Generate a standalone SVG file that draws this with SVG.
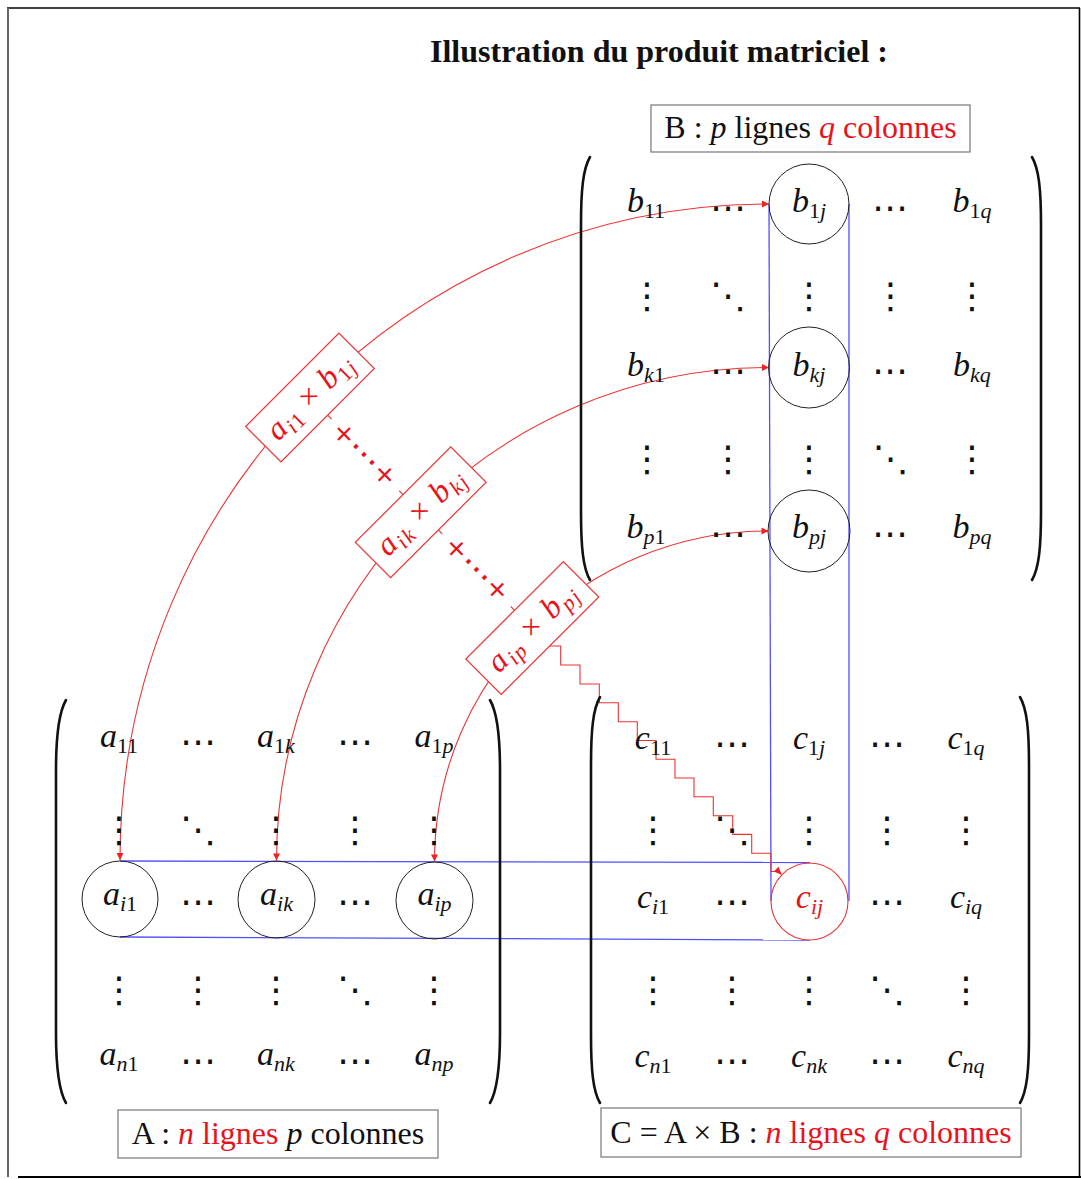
<svg xmlns="http://www.w3.org/2000/svg" width="1081" height="1179" viewBox="0 0 1081 1179">
<style>
.m{font-family:"Liberation Serif",serif;font-style:italic;font-size:34px;text-anchor:middle;fill:#111}
.s{font-size:22px}
.u{font-style:normal}
.d{font-family:"DejaVu Sans",sans-serif;font-size:36px;text-anchor:middle;fill:#111}
.par{fill:none;stroke:#111;stroke-width:2.6;stroke-linecap:round}
.cir{fill:none;stroke:#222;stroke-width:1}
.blue{stroke:#5050ff;stroke-width:1.3;fill:none}
.red{stroke:#ee3333;stroke-width:1.1;fill:none}
.pb{fill:#fff;stroke:#ee3333;stroke-width:1.2}
.pt{font-family:"Liberation Serif",serif;font-style:italic;font-size:32px;fill:#e8121c;text-anchor:middle}
.pp{font-family:"DejaVu Sans",sans-serif;font-size:27px;fill:#e8121c;text-anchor:middle}
.pd{font-size:34px}
.lab{font-family:"Liberation Serif",serif;font-size:32px;fill:#111;text-anchor:middle}
.lb{fill:#fff;stroke:#777;stroke-width:1.2}
.r{fill:#e8121c}
.i{font-style:italic}
</style>
<defs>
<marker id="ah" viewBox="0 0 10 10" refX="10" refY="5" markerWidth="9" markerHeight="7" markerUnits="userSpaceOnUse" orient="auto-start-reverse">
<path d="M0,0 L10,5 L0,10 z" fill="#ee2222"/>
</marker>
</defs>
<rect width="1081" height="1179" fill="#fff"/>
<g id="frame">
<line x1="7" y1="8" x2="1080" y2="8" stroke="#000" stroke-width="1.6"/>
<line x1="8" y1="8" x2="8" y2="1177" stroke="#666" stroke-width="2"/>
<line x1="1079.5" y1="8" x2="1079.5" y2="1178" stroke="#000" stroke-width="1.6"/>
<line x1="18" y1="1177" x2="1081" y2="1177" stroke="#000" stroke-width="2"/>
</g>
<g id="title">
<text x="659" y="62" font-family="Liberation Serif, serif" font-weight="bold" font-size="31" text-anchor="middle" textLength="458" lengthAdjust="spacingAndGlyphs" fill="#111">Illustration du produit matriciel :</text>
</g>

<g id="connectors">
<line class="blue" x1="769" y1="204" x2="771" y2="901"/>
<line class="blue" x1="849" y1="204" x2="849" y2="901"/>
<line class="blue" x1="120" y1="861" x2="810" y2="862.5"/>
<line class="blue" x1="120" y1="937" x2="810" y2="940"/>
<path class="red" d="M120,860 C120,497.7 410.6,204 769,204" marker-start="url(#ah)" marker-end="url(#ah)"/>
<path class="red" d="M276.5,860.5 C276.5,588.4 497,367.5 769,367.5" marker-start="url(#ah)" marker-end="url(#ah)"/>
<path class="red" d="M434.5,861.5 C434.5,679.2 584.3,531 768.5,531" marker-start="url(#ah)" marker-end="url(#ah)"/>
<line class="red" x1="327.7" y1="415.2" x2="331.5" y2="419"/>
<line class="red" x1="403" y1="494.6" x2="399.2" y2="490.8"/>
<line class="red" x1="438.4" y1="530" x2="442.2" y2="533.8"/>
<line class="red" x1="514.6" y1="610.3" x2="510.8" y2="606.5"/>
<path class="red" d="M550,646 H560.7 V665 H580 V684 H599.3 V702.7 H618.3 V721.7 H637.3 V740.5 H656 V759.3 H675 V778 H694 V796.8 H713.3 V815.7 H732.7 V834.4 H751.7 V853.2 H771 V871.5 H776"/>
<path d="M782,875 L778.5,866.8 L773.8,871.5 z" fill="#ee2222"/>
</g>

<g id="sum1">
<text class="pp" transform="translate(364,454.6) rotate(45)" x="0" y="8">+<tspan class="pd" dx="0.5" dy="2.5">⋯</tspan><tspan dx="0.5" dy="-2.5">+</tspan></text>
</g>
<g id="sum2">
<text class="pp" transform="translate(476.5,569.5) rotate(45)" x="0" y="8">+<tspan class="pd" dx="0.5" dy="2.5">⋯</tspan><tspan dx="0.5" dy="-2.5">+</tspan></text>
</g>

<g id="prod1" transform="translate(310,397.5) rotate(-45)">
<rect class="pb" x="-66" y="-25" width="132" height="50"/>
<text class="pt" x="0" y="9" textLength="108">a<tspan class="s" dy="6">i<tspan class="u">1</tspan></tspan><tspan class="u" dy="-6"> × </tspan>b<tspan class="s" dy="6"><tspan class="u">1</tspan>j</tspan></text>
</g>
<g id="prod2" transform="translate(420.7,512.3) rotate(-45)">
<rect class="pb" x="-67.5" y="-25" width="135" height="50"/>
<text class="pt" x="0" y="9" textLength="110">a<tspan class="s" dy="6">ik</tspan><tspan class="u" dy="-6"> × </tspan>b<tspan class="s" dy="6">kj</tspan></text>
</g>
<g id="prod3" transform="translate(532.3,628) rotate(-45)">
<rect class="pb" x="-69" y="-25" width="138" height="50"/>
<text class="pt" x="0" y="9" textLength="112">a<tspan class="s" dy="6">ip</tspan><tspan class="u" dy="-6"> × </tspan>b<tspan class="s" dy="6">pj</tspan></text>
</g>

<g id="matrixB">
<path class="par" d="M590,157 C583,169 581,190 581,225 L581,512 C581,547 583,568 590,580"/>
<path class="par" d="M1032,157 C1039,169 1041,190 1041,225 L1041,512 C1041,547 1039,568 1032,580"/>
<circle class="cir" cx="809" cy="204" r="40"/>
<circle class="cir" cx="809" cy="367.5" r="40.5"/>
<circle class="cir" cx="809" cy="531" r="41"/>
<text class="m" x="646" y="212">b<tspan class="s u" dy="6">11</tspan></text>
<text class="d" x="728" y="220">⋯</text>
<text class="m" x="809" y="212">b<tspan class="s" dy="6"><tspan class="u">1</tspan>j</tspan></text>
<text class="d" x="890" y="220">⋯</text>
<text class="m" x="972" y="212">b<tspan class="s" dy="6"><tspan class="u">1</tspan>q</tspan></text>
<text class="d" x="647" y="308">⋮</text>
<text class="d" x="728" y="308">⋱</text>
<text class="d" x="809" y="308">⋮</text>
<text class="d" x="890.5" y="308">⋮</text>
<text class="d" x="972" y="308">⋮</text>
<text class="m" x="646" y="376">b<tspan class="s" dy="6">k<tspan class="u">1</tspan></tspan></text>
<text class="d" x="728" y="383">⋯</text>
<text class="m" x="809" y="376">b<tspan class="s" dy="6">kj</tspan></text>
<text class="d" x="890" y="383">⋯</text>
<text class="m" x="972" y="376">b<tspan class="s" dy="6">kq</tspan></text>
<text class="d" x="647" y="471">⋮</text>
<text class="d" x="728" y="471">⋮</text>
<text class="d" x="809" y="471">⋮</text>
<text class="d" x="890.5" y="471">⋱</text>
<text class="d" x="972" y="471">⋮</text>
<text class="m" x="646" y="538">b<tspan class="s" dy="6">p<tspan class="u">1</tspan></tspan></text>
<text class="d" x="728" y="546">⋯</text>
<text class="m" x="809" y="538">b<tspan class="s" dy="6">pj</tspan></text>
<text class="d" x="890" y="546">⋯</text>
<text class="m" x="972" y="538">b<tspan class="s" dy="6">pq</tspan></text>
</g>

<g id="matrixA">
<path class="par" d="M66,700 C59,712 56,735 56,770 L56,1033 C56,1068 59,1091 66,1103"/>
<path class="par" d="M490,700 C497,712 500,735 500,770 L500,1033 C500,1068 497,1091 490,1103"/>
<circle class="cir" cx="120" cy="899" r="38"/>
<circle class="cir" cx="276.5" cy="899.5" r="38.5"/>
<circle class="cir" cx="434.5" cy="900.5" r="38.5"/>
<text class="m" x="119" y="747">a<tspan class="s u" dy="6">11</tspan></text>
<text class="d" x="198" y="754">⋯</text>
<text class="m" x="276" y="747">a<tspan class="s" dy="6"><tspan class="u">1</tspan>k</tspan></text>
<text class="d" x="355" y="754">⋯</text>
<text class="m" x="434" y="747">a<tspan class="s" dy="6"><tspan class="u">1</tspan>p</tspan></text>
<text class="d" x="119" y="842">⋮</text>
<text class="d" x="198" y="842">⋱</text>
<text class="d" x="276" y="842">⋮</text>
<text class="d" x="355" y="842">⋮</text>
<text class="d" x="434" y="842">⋮</text>
<text class="m" x="120" y="905">a<tspan class="s" dy="6">i<tspan class="u">1</tspan></tspan></text>
<text class="d" x="198" y="914">⋯</text>
<text class="m" x="276.5" y="905">a<tspan class="s" dy="6">ik</tspan></text>
<text class="d" x="355" y="914">⋯</text>
<text class="m" x="434.5" y="905">a<tspan class="s" dy="6">ip</tspan></text>
<text class="d" x="119" y="1002">⋮</text>
<text class="d" x="198" y="1002">⋮</text>
<text class="d" x="276" y="1002">⋮</text>
<text class="d" x="355" y="1002">⋱</text>
<text class="d" x="434" y="1002">⋮</text>
<text class="m" x="119" y="1065">a<tspan class="s" dy="6">n<tspan class="u">1</tspan></tspan></text>
<text class="d" x="198" y="1073">⋯</text>
<text class="m" x="276" y="1065">a<tspan class="s" dy="6">nk</tspan></text>
<text class="d" x="355" y="1073">⋯</text>
<text class="m" x="434" y="1065">a<tspan class="s" dy="6">np</tspan></text>
</g>

<g id="matrixC">
<path class="par" d="M600,697 C593,709 591,730 591,765 L591,1035 C591,1070 593,1091 600,1103"/>
<path class="par" d="M1020,697 C1027,709 1029,730 1029,765 L1029,1035 C1029,1070 1027,1091 1020,1103"/>
<circle cx="809.5" cy="901.5" r="38.5" fill="none" stroke="#ee3333" stroke-width="1.1"/>
<text class="m" x="653" y="749">c<tspan class="s u" dy="6">11</tspan></text>
<text class="d" x="732" y="756">⋯</text>
<text class="m" x="809" y="749">c<tspan class="s" dy="6"><tspan class="u">1</tspan>j</tspan></text>
<text class="d" x="887" y="756">⋯</text>
<text class="m" x="966" y="749">c<tspan class="s" dy="6"><tspan class="u">1</tspan>q</tspan></text>
<text class="d" x="653" y="842">⋮</text>
<text class="d" x="732" y="842">⋱</text>
<text class="d" x="809" y="842">⋮</text>
<text class="d" x="887" y="842">⋮</text>
<text class="d" x="966" y="842">⋮</text>
<text class="m" x="653" y="908">c<tspan class="s" dy="6">i<tspan class="u">1</tspan></tspan></text>
<text class="d" x="732" y="914">⋯</text>
<text class="m r" x="809.5" y="908">c<tspan class="s" dy="6">ij</tspan></text>
<text class="d" x="887" y="914">⋯</text>
<text class="m" x="966" y="908">c<tspan class="s" dy="6">iq</tspan></text>
<text class="d" x="653" y="1002">⋮</text>
<text class="d" x="732" y="1002">⋮</text>
<text class="d" x="809" y="1002">⋮</text>
<text class="d" x="887" y="1002">⋱</text>
<text class="d" x="966" y="1002">⋮</text>
<text class="m" x="653" y="1067">c<tspan class="s" dy="6">n<tspan class="u">1</tspan></tspan></text>
<text class="d" x="732" y="1073">⋯</text>
<text class="m" x="809" y="1067">c<tspan class="s" dy="6">nk</tspan></text>
<text class="d" x="887" y="1073">⋯</text>
<text class="m" x="966" y="1067">c<tspan class="s" dy="6">nq</tspan></text>
</g>

<g id="labelB">
<rect class="lb" x="651" y="105" width="319" height="47"/>
<text class="lab" x="810.5" y="138">B : <tspan class="i">p</tspan> lignes <tspan class="i r">q</tspan><tspan class="r"> colonnes</tspan></text>
</g>
<g id="labelA">
<rect class="lb" x="118" y="1110" width="320" height="48"/>
<text class="lab" x="278" y="1144">A : <tspan class="i r">n</tspan><tspan class="r"> lignes </tspan><tspan class="i">p</tspan> colonnes</text>
</g>
<g id="labelC">
<rect class="lb" x="601" y="1108" width="420" height="49"/>
<text class="lab" x="811" y="1143">C = A × B : <tspan class="i r">n</tspan><tspan class="r"> lignes </tspan><tspan class="i r">q</tspan><tspan class="r"> colonnes</tspan></text>
</g>
</svg>
